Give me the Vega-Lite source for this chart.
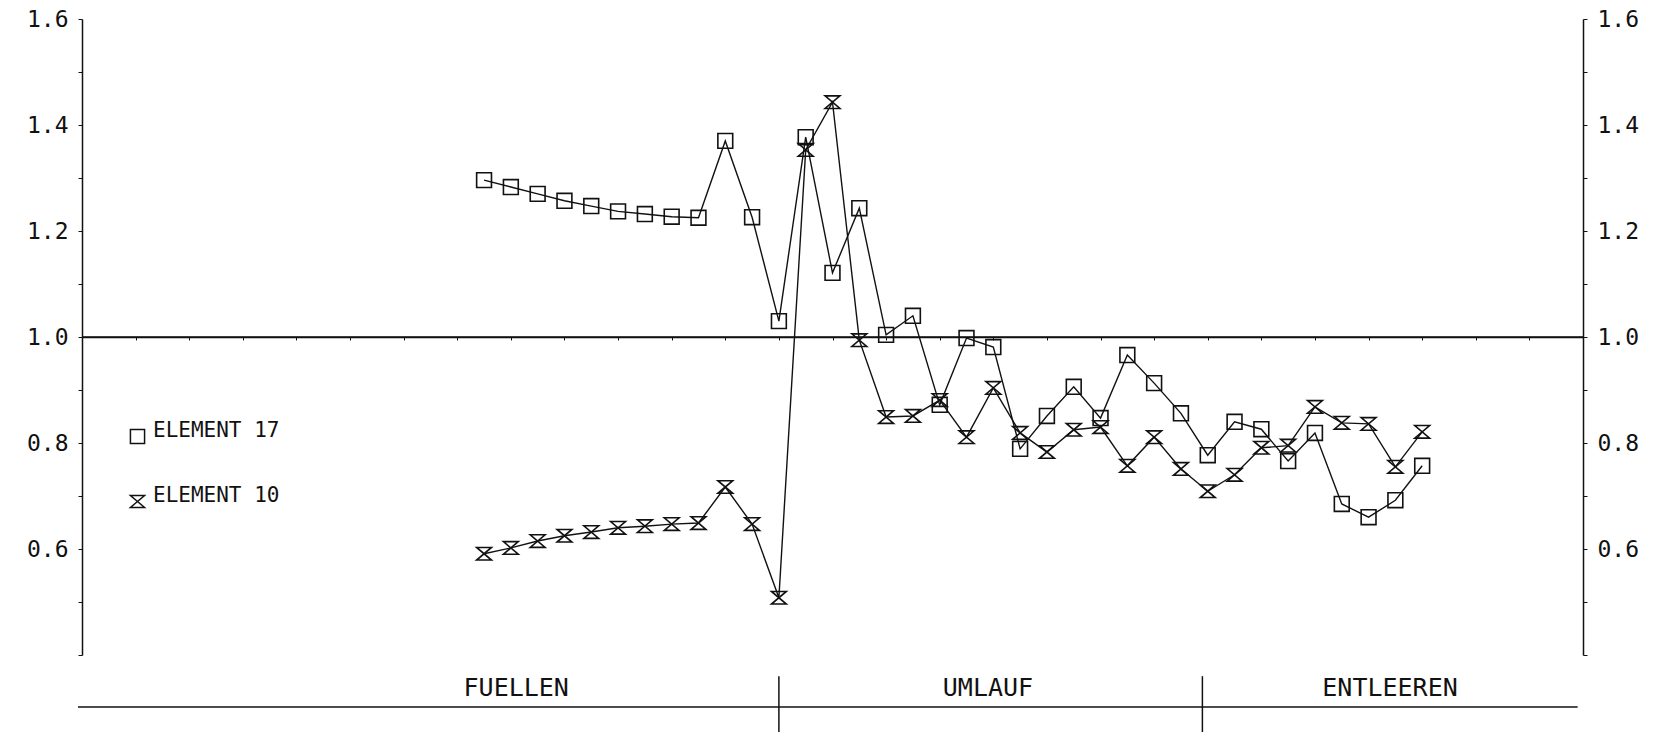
{
  "$schema": "https://vega.github.io/schema/vega-lite/v6.json",
  "width": 1501,
  "height": 636,
  "autosize": "none",
  "padding": {"left": 82, "top": 19, "right": 73, "bottom": 77},
  "background": "white",
  "config": {
    "view": {"stroke": null},
    "axisX": {"labels": false, "grid": false, "titleOpacity": 0, "offset": -318, "domain": true, "domainColor": "#111", "domainWidth": 1.5, "tickSize": 3, "tickColor": "#111"}
  },
  "datasets": {
    "series": [
      {"i": 15, "series": "ELEMENT 17", "v": 1.296},
      {"i": 16, "series": "ELEMENT 17", "v": 1.283},
      {"i": 17, "series": "ELEMENT 17", "v": 1.270},
      {"i": 18, "series": "ELEMENT 17", "v": 1.257},
      {"i": 19, "series": "ELEMENT 17", "v": 1.247},
      {"i": 20, "series": "ELEMENT 17", "v": 1.237},
      {"i": 21, "series": "ELEMENT 17", "v": 1.232},
      {"i": 22, "series": "ELEMENT 17", "v": 1.227},
      {"i": 23, "series": "ELEMENT 17", "v": 1.225},
      {"i": 24, "series": "ELEMENT 17", "v": 1.370},
      {"i": 25, "series": "ELEMENT 17", "v": 1.226},
      {"i": 26, "series": "ELEMENT 17", "v": 1.030},
      {"i": 27, "series": "ELEMENT 17", "v": 1.377},
      {"i": 28, "series": "ELEMENT 17", "v": 1.121},
      {"i": 29, "series": "ELEMENT 17", "v": 1.243},
      {"i": 30, "series": "ELEMENT 17", "v": 1.004},
      {"i": 31, "series": "ELEMENT 17", "v": 1.040},
      {"i": 32, "series": "ELEMENT 17", "v": 0.872},
      {"i": 33, "series": "ELEMENT 17", "v": 0.998},
      {"i": 34, "series": "ELEMENT 17", "v": 0.981},
      {"i": 35, "series": "ELEMENT 17", "v": 0.789},
      {"i": 36, "series": "ELEMENT 17", "v": 0.851},
      {"i": 37, "series": "ELEMENT 17", "v": 0.906},
      {"i": 38, "series": "ELEMENT 17", "v": 0.847},
      {"i": 39, "series": "ELEMENT 17", "v": 0.966},
      {"i": 40, "series": "ELEMENT 17", "v": 0.913},
      {"i": 41, "series": "ELEMENT 17", "v": 0.856},
      {"i": 42, "series": "ELEMENT 17", "v": 0.777},
      {"i": 43, "series": "ELEMENT 17", "v": 0.840},
      {"i": 44, "series": "ELEMENT 17", "v": 0.826},
      {"i": 45, "series": "ELEMENT 17", "v": 0.766},
      {"i": 46, "series": "ELEMENT 17", "v": 0.819},
      {"i": 47, "series": "ELEMENT 17", "v": 0.685},
      {"i": 48, "series": "ELEMENT 17", "v": 0.660},
      {"i": 49, "series": "ELEMENT 17", "v": 0.692},
      {"i": 50, "series": "ELEMENT 17", "v": 0.757},
      {"i": 15, "series": "ELEMENT 10", "v": 0.591},
      {"i": 16, "series": "ELEMENT 10", "v": 0.602},
      {"i": 17, "series": "ELEMENT 10", "v": 0.615},
      {"i": 18, "series": "ELEMENT 10", "v": 0.625},
      {"i": 19, "series": "ELEMENT 10", "v": 0.632},
      {"i": 20, "series": "ELEMENT 10", "v": 0.640},
      {"i": 21, "series": "ELEMENT 10", "v": 0.643},
      {"i": 22, "series": "ELEMENT 10", "v": 0.647},
      {"i": 23, "series": "ELEMENT 10", "v": 0.649},
      {"i": 24, "series": "ELEMENT 10", "v": 0.717},
      {"i": 25, "series": "ELEMENT 10", "v": 0.647},
      {"i": 26, "series": "ELEMENT 10", "v": 0.508},
      {"i": 27, "series": "ELEMENT 10", "v": 1.353},
      {"i": 28, "series": "ELEMENT 10", "v": 1.443},
      {"i": 29, "series": "ELEMENT 10", "v": 0.994},
      {"i": 30, "series": "ELEMENT 10", "v": 0.849},
      {"i": 31, "series": "ELEMENT 10", "v": 0.851},
      {"i": 32, "series": "ELEMENT 10", "v": 0.881},
      {"i": 33, "series": "ELEMENT 10", "v": 0.811},
      {"i": 34, "series": "ELEMENT 10", "v": 0.904},
      {"i": 35, "series": "ELEMENT 10", "v": 0.819},
      {"i": 36, "series": "ELEMENT 10", "v": 0.783},
      {"i": 37, "series": "ELEMENT 10", "v": 0.825},
      {"i": 38, "series": "ELEMENT 10", "v": 0.830},
      {"i": 39, "series": "ELEMENT 10", "v": 0.757},
      {"i": 40, "series": "ELEMENT 10", "v": 0.811},
      {"i": 41, "series": "ELEMENT 10", "v": 0.751},
      {"i": 42, "series": "ELEMENT 10", "v": 0.709},
      {"i": 43, "series": "ELEMENT 10", "v": 0.740},
      {"i": 44, "series": "ELEMENT 10", "v": 0.791},
      {"i": 45, "series": "ELEMENT 10", "v": 0.795},
      {"i": 46, "series": "ELEMENT 10", "v": 0.868},
      {"i": 47, "series": "ELEMENT 10", "v": 0.838},
      {"i": 48, "series": "ELEMENT 10", "v": 0.836},
      {"i": 49, "series": "ELEMENT 10", "v": 0.755},
      {"i": 50, "series": "ELEMENT 10", "v": 0.821}
    ],
    "sections": [
      {"section": "FUELLEN", "center": 16.2, "end": 26},
      {"section": "UMLAUF", "center": 33.8, "end": 41.8},
      {"section": "ENTLEEREN", "center": 48.8}
    ],
    "reference": [
      {"name": "unity", "level": 1.0, "from": 0, "to": 56},
      {"name": "baseline", "level": 0.302, "from": -0.15, "to": 55.8}
    ]
  },
  "resolve": {"axis": {"y": "independent"}},
  "layer": [
    {
      "data": {"name": "reference"},
      "mark": {"type": "rule", "color": "#111", "strokeWidth": 1.5},
      "encoding": {
        "x": {"field": "from", "type": "quantitative"},
        "x2": {"field": "to"},
        "y": {"field": "level", "type": "quantitative", "axis": null}
      }
    },
    {
      "data": {"name": "series"},
      "mark": {"type": "line", "color": "#111", "strokeWidth": 1.4},
      "encoding": {
        "x": {
          "field": "i", "type": "quantitative",
          "scale": {"domain": [0, 56], "nice": false, "zero": false},
          "axis": {
            "orient": "bottom", "offset": -318, "title": null, "labels": false, "grid": false,
            "domain": true, "domainColor": "#111", "domainWidth": 1.5,
            "values": [2,4,6,8,10,12,14,16,18,20,22,24,26,28,30,32,34,36,38,40,42,44,46,48,50,52,54],
            "tickSize": 3, "tickColor": "#111"
          }
        },
        "y": {
          "field": "v", "type": "quantitative",
          "scale": {"domain": [0.4, 1.6], "nice": false, "zero": false},
          "axis": {
            "orient": "left", "title": null, "grid": false,
            "values": [0.4,0.5,0.6,0.7,0.8,0.9,1.0,1.1,1.2,1.3,1.4,1.5,1.6],
            "labelExpr": "datum.value >= 0.55 && abs(round(datum.value*10) % 2) == 0 ? format(datum.value, '.1f') : ''",
            "domainColor": "#111", "domainWidth": 1.5, "tickColor": "#111", "tickSize": 4,
            "labelFont": "DejaVu Sans Mono", "labelFontSize": 23, "labelColor": "#111", "labelPadding": 10
          }
        },
        "detail": {"field": "series", "type": "nominal"},
        "order": {"field": "i", "type": "quantitative"}
      }
    },
    {
      "data": {"name": "series"},
      "mark": {"type": "point", "filled": false, "color": "#111", "strokeWidth": 1.6, "size": 220, "opacity": 1},
      "encoding": {
        "x": {"field": "i", "type": "quantitative"},
        "y": {
          "field": "v", "type": "quantitative",
          "axis": {
            "orient": "right", "title": null, "grid": false,
            "values": [0.4,0.5,0.6,0.7,0.8,0.9,1.0,1.1,1.2,1.3,1.4,1.5,1.6],
            "labelExpr": "datum.value >= 0.55 && abs(round(datum.value*10) % 2) == 0 ? format(datum.value, '.1f') : ''",
            "domainColor": "#111", "domainWidth": 1.5, "tickColor": "#111", "tickSize": 4,
            "labelFont": "DejaVu Sans Mono", "labelFontSize": 23, "labelColor": "#111", "labelPadding": 10
          }
        },
        "shape": {
          "field": "series", "type": "nominal",
          "scale": {"domain": ["ELEMENT 17", "ELEMENT 10"], "range": ["square", "M-1,-0.85L1,-0.85L-1,0.85L1,0.85Z"]},
          "legend": {
            "orient": "none", "legendX": 45, "legendY": 407, "title": null,
            "labelFont": "DejaVu Sans Mono", "labelFontSize": 21, "labelColor": "#111",
            "labelBaseline": "alphabetic", "labelOffset": 5,
            "symbolSize": 200, "symbolStrokeWidth": 1.5, "symbolStrokeColor": "#111", "symbolFillColor": "transparent",
            "rowPadding": 37
          }
        }
      }
    },
    {
      "data": {"name": "sections"},
      "transform": [{"filter": "isValid(datum.end)"}],
      "mark": {"type": "rule", "color": "#111", "strokeWidth": 1.5},
      "encoding": {
        "x": {"field": "end", "type": "quantitative"},
        "y": {"datum": 0.36, "type": "quantitative", "axis": null},
        "y2": {"datum": 0.2547}
      }
    },
    {
      "data": {"name": "sections"},
      "mark": {"type": "text", "font": "DejaVu Sans Mono", "fontSize": 25, "color": "#111", "align": "center", "baseline": "middle"},
      "encoding": {
        "x": {"field": "center", "type": "quantitative"},
        "y": {"datum": 0.337, "type": "quantitative", "axis": null},
        "text": {"field": "section", "type": "nominal"}
      }
    }
  ]
}
